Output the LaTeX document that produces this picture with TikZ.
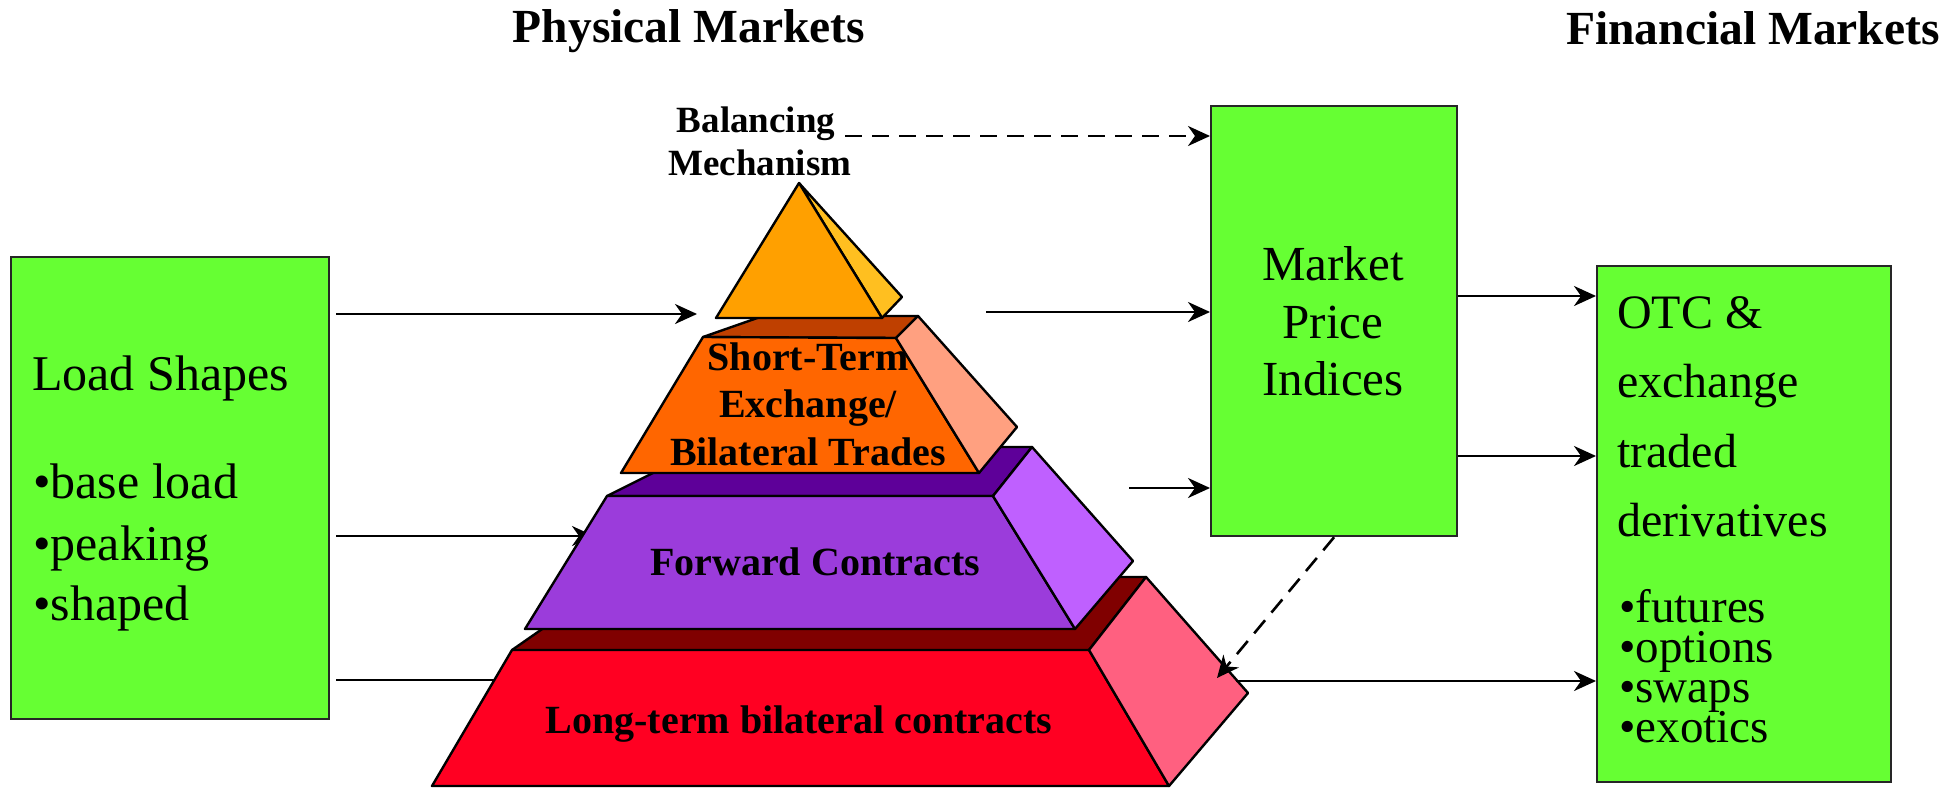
\documentclass[tikz,border=0pt]{standalone}
\usepackage{fontspec}
\setmainfont{Liberation Serif}
\usetikzlibrary{arrows.meta}
\definecolor{boxgreen}{HTML}{66FF33}
\definecolor{triF}{HTML}{FFA000}
\definecolor{triS}{HTML}{FFBF20}
\definecolor{orF}{HTML}{FF6600}
\definecolor{orT}{HTML}{BF4000}
\definecolor{orS}{HTML}{FFA080}
\definecolor{puF}{HTML}{9B3CDB}
\definecolor{puT}{HTML}{5E0099}
\definecolor{puS}{HTML}{BF60FF}
\definecolor{reF}{HTML}{FF0022}
\definecolor{reT}{HTML}{800000}
\definecolor{reS}{HTML}{FF6080}
\begin{document}
\begin{tikzpicture}[x=1pt,y=-1pt,
  greenbox/.style={draw=black!85, line width=2.2pt, fill=boxgreen, inner sep=0pt, anchor=north west},
  conn/.style={line width=2.6pt, -{Stealth[length=22pt,width=20pt,inset=7pt]}},
  dconn/.style={conn, dash pattern=on 17pt off 10pt},
  face/.style={draw=black, line width=2.4pt, line join=round},
  plain/.style={font=\fontsize{50}{60}\selectfont, inner sep=0pt, anchor=base west},
  plainc/.style={font=\fontsize{49}{58}\selectfont, inner sep=0pt, anchor=base},
  otctxt/.style={font=\fontsize{48}{58}\selectfont, inner sep=0pt, anchor=base west},
  bultxt/.style={font=\fontsize{47}{56}\selectfont, inner sep=0pt, anchor=base west},
  lvl/.style={font=\bfseries\fontsize{40}{48}\selectfont, inner sep=0pt, anchor=base},
  bmtxt/.style={font=\bfseries\fontsize{37}{44}\selectfont, inner sep=0pt, anchor=base},
  title/.style={font=\bfseries\fontsize{47.5}{56}\selectfont, inner sep=0pt, anchor=base}]
\useasboundingbox (0,0) rectangle (1950,787);

% titles
\node[title] (tphys) at (689,42) {Physical Markets};
\node[title] (tfin) at (1753,44) {Financial Markets};

% boxes
\node[greenbox, minimum width=318pt, minimum height=462pt] (load) at (10,256) {};
\node[greenbox, minimum width=246pt, minimum height=430pt] (market) at (1210,105) {};
\node[greenbox, minimum width=294pt, minimum height=516pt] (otc) at (1596,265) {};

% box texts
\node[plain] (l1) at (32,390) {Load Shapes};
\node[plain] (l2) at (33,498) {•base load};
\node[plain] (l3) at (33,560) {•peaking};
\node[plain] (l4) at (33,620) {•shaped};

\node[plainc] (m1) at (1333,280) {Market};
\node[plainc] (m2) at (1333,338) {Price};
\node[plainc] (m3) at (1333,395) {Indices};

\node[otctxt] (o1) at (1617,328) {OTC \&};
\node[otctxt] (o2) at (1617,397) {exchange};
\node[otctxt] (o3) at (1617,467) {traded};
\node[otctxt] (o4) at (1617,536) {derivatives};
\node[bultxt] (o5) at (1619,622) {•futures};
\node[bultxt] (o6) at (1619,662) {•options};
\node[bultxt] (o7) at (1619,702) {•swaps};
\node[bultxt] (o8) at (1619,742) {•exotics};

% connector end points
\coordinate (bmtip) at (697,314);
\coordinate (fwtip) at (594,536);
\coordinate (lttip) at (545,680);
\coordinate (bmend) at (845,136);
\coordinate (trs) at (986,312);
\coordinate (fws) at (1129,488);
\coordinate (ya) at (0,296);
\coordinate (yb) at (0,456);
\coordinate (rtip) at (1217,678);
\coordinate (rs) at (1236,681);

% arrows from load shapes (under pyramid)
\draw[conn, shorten <=6pt] (load.east |- bmtip) -- (bmtip);
\draw[conn, shorten <=6pt] (load.east |- fwtip) -- (fwtip);
\draw[conn, shorten <=6pt] (load.east |- lttip) -- (lttip);

% Long-term block
\fill[reT] (512,650) -- (617,577) -- (1146,577) -- (1089,650) -- cycle;
\draw[face] (512,650) -- (617,577) -- (1146,577) -- (1089,650);
\draw[face, fill=reF] (512,650) -- (1089,650) -- (1169,786) -- (432,786) -- cycle;
\node[lvl] (ltxt) at (799,733) {Long-term bilateral contracts};
\draw[face, fill=reS] (1089,650) -- (1146,577) -- (1248,693) -- (1169,786) -- cycle;

% Forward block
\draw[face, fill=puT] (607,496) -- (705,447) -- (1032,447) -- (993,496) -- cycle;
\draw[face, fill=puF] (607,496) -- (993,496) -- (1075,629) -- (525,629) -- cycle;
\node[lvl] (ftxt) at (815,575) {Forward Contracts};
\draw[face, fill=puS] (993,496) -- (1032,447) -- (1133,561) -- (1075,629) -- cycle;

% Short-term block
\draw[face, fill=orT] (703,337) -- (763,316) -- (918,316) -- (896,338) -- cycle;
\draw[face, fill=orF] (703,337) -- (896,338) -- (979,473) -- (621,473) -- cycle;
\node[lvl] (s1) at (808,370) {Short-Term};
\node[lvl] (s2) at (808,417) {Exchange/};
\node[lvl] (s3) at (808,465) {Bilateral Trades};
\draw[face, fill=orS] (896,338) -- (918,316) -- (1017,427) -- (979,473) -- cycle;

% Balancing triangle
\draw[face, fill=triS] (799,183) -- (902,297) -- (882,318) -- cycle;
\draw[face, fill=triF] (799,183) -- (882,318) -- (716,318) -- cycle;
\node[bmtxt] (b1) at (756,132) {Balancing};
\node[bmtxt] (b2) at (760,175) {Mechanism};

% arrows to market price indices
\draw[dconn] (bmend) -- (market.west |- bmend);
\draw[conn] (trs) -- (market.west |- trs);
\draw[conn] (fws) -- (market.west |- fws);

% market to OTC
\draw[conn] (market.east |- ya) -- (otc.west |- ya);
\draw[conn] (market.east |- yb) -- (otc.west |- yb);

% dashed from market down to long-term
\draw[dconn] (market.south) -- (rtip);
\draw[conn] (rs) -- (otc.west |- rs);
\end{tikzpicture}
\end{document}
